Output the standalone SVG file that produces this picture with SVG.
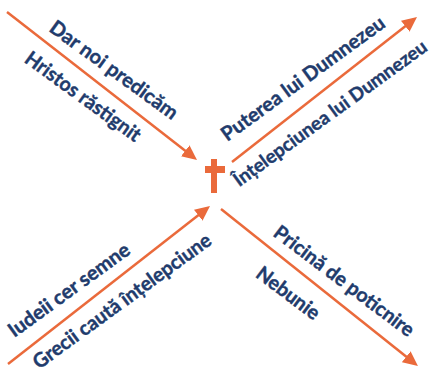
<svg xmlns="http://www.w3.org/2000/svg" width="440" height="372" viewBox="0 0 440 372">
<style>
.ln{stroke:#EA6A3B;stroke-width:2.5;fill:none;marker-end:url(#ah)}
.t{font-family:Lato,"Open Sans","DejaVu Sans",sans-serif;font-weight:700;font-size:20px;fill:#213B6C;stroke:#213B6C;stroke-width:0.4;text-anchor:middle}
</style>
<defs>
<marker id="ah" markerUnits="userSpaceOnUse" markerWidth="16" markerHeight="16" viewBox="0 -8 16 16" refX="7" refY="0" orient="auto"><path d="M0,-7 L15,0 L0,7 z" fill="#EA6A3B"/></marker>
</defs>
<rect width="440" height="372" fill="#FFFFFF"/>
<g id="connectors">
<line class="ln" x1="7" y1="12" x2="190.7" y2="155.1"/>
<line class="ln" x1="232" y1="162" x2="410.7" y2="21.9"/>
<line class="ln" x1="8" y1="364" x2="203.7" y2="210.9"/>
<line class="ln" x1="221" y1="209" x2="411.7" y2="361"/>
</g>
<g id="cross"><rect x="211" y="159" width="6" height="34" fill="#EA6A3B"/><rect x="205" y="166" width="20" height="7" fill="#EA6A3B"/></g>
<g id="t1"><text class="t" transform="translate(110,75.5) rotate(36)" textLength="153" lengthAdjust="spacingAndGlyphs">Dar noi predicăm</text></g>
<g id="t2"><text class="t" transform="translate(79,102) rotate(36)" textLength="138" lengthAdjust="spacingAndGlyphs">Hristos răstignit</text></g>
<g id="t3"><text class="t" transform="translate(307,84) rotate(-36)" textLength="197" lengthAdjust="spacingAndGlyphs">Puterea lui Dumnezeu</text></g>
<g id="t4"><text class="t" style="font-size:19px" transform="translate(334,118.5) rotate(-36)" textLength="234" lengthAdjust="spacingAndGlyphs">Înțelepciunea lui Dumnezeu</text></g>
<g id="t5"><text class="t" transform="translate(73,295.5) rotate(-36)" textLength="145" lengthAdjust="spacingAndGlyphs">Iudeii cer semne</text></g>
<g id="t6"><text class="t" transform="translate(126,306.5) rotate(-36)" textLength="215" lengthAdjust="spacingAndGlyphs">Grecii caută înțelepciune</text></g>
<g id="t7"><text class="t" transform="translate(340,286.5) rotate(37)" textLength="170" lengthAdjust="spacingAndGlyphs">Pricină de poticnire</text></g>
<g id="t8"><text class="t" transform="translate(284,298.5) rotate(37)" textLength="74" lengthAdjust="spacingAndGlyphs">Nebunie</text></g>
</svg>
